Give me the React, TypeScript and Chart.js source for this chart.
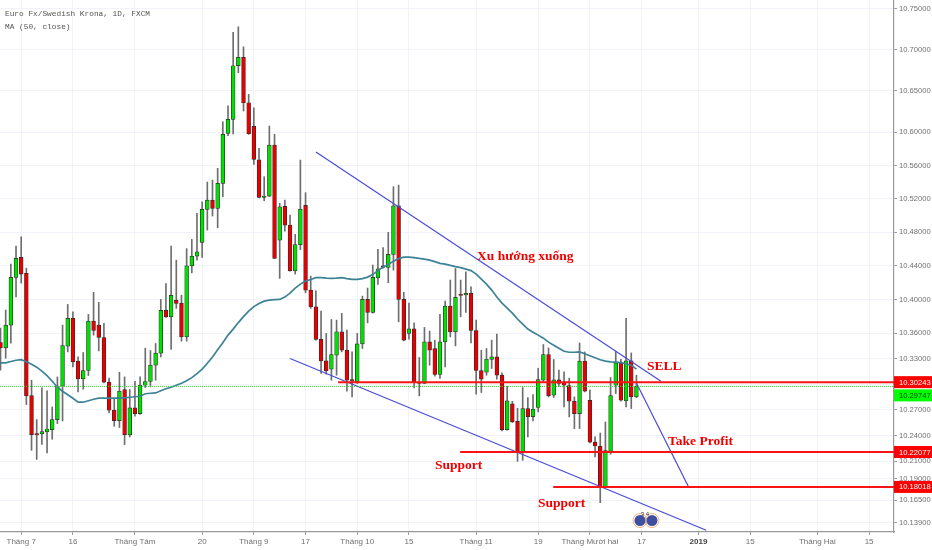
import React, { useEffect, useRef } from "react";
import { Chart, registerables } from "chart.js";

Chart.register(...registerables);

const firstBar = -4;
const opens = [10.3491,10.3427,10.3696,10.4262,10.4499,10.4309,10.2867,10.2422,10.2418,10.2441,10.2469,10.2586,10.2977,10.3447,10.3775,10.3271,10.3062,10.3161,10.3743,10.3696,10.3550,10.3024,10.2695,10.2574,10.2938,10.2406,10.2722,10.2656,10.2988,10.3032,10.3224,10.3365,10.3870,10.3794,10.3992,10.3956,10.3557,10.4399,10.4515,10.4678,10.5073,10.5184,10.5085,10.5385,10.5987,10.6156,10.6807,10.6909,10.6357,10.6072,10.5668,10.5217,10.5232,10.5845,10.4704,10.5109,10.4885,10.4340,10.4652,10.5121,10.4111,10.3913,10.3527,10.3274,10.3177,10.3341,10.3617,10.3400,10.3055,10.3027,10.3475,10.4000,10.3846,10.4257,10.4399,10.4380,10.4535,10.5116,10.4000,10.3598,10.3652,10.3024,10.3008,10.3498,10.3420,10.3114,10.3498,10.3921,10.3617,10.4060,10.4055,10.4072,10.3633,10.3161,10.3141,10.3291,10.3321,10.3106,10.2469,10.2769,10.2566,10.2207,10.2715,10.2621,10.2727,10.3047,10.3349,10.2871,10.3051,10.3024,10.2985,10.2800,10.2656,10.3271,10.2812,10.2324,10.2277,10.1800,10.2219,10.2988,10.3251,10.2804,10.3274,10.2851];
const highs = [10.3660,10.3874,10.4420,10.4634,10.4745,10.4372,10.3047,10.2586,10.2957,10.2922,10.2734,10.3086,10.3696,10.3941,10.3853,10.3321,10.3373,10.3823,10.4085,10.3965,10.3716,10.3071,10.2832,10.3141,10.3086,10.2938,10.3035,10.3086,10.3424,10.3396,10.3479,10.4000,10.4188,10.4634,10.4467,10.4051,10.4604,10.4714,10.5025,10.5164,10.5400,10.5424,10.5565,10.6127,10.6321,10.7213,10.7282,10.7037,10.6459,10.6297,10.5805,10.5464,10.6075,10.5975,10.5145,10.5184,10.5005,10.4774,10.5665,10.5273,10.4277,10.4103,10.3862,10.3598,10.3763,10.3755,10.3835,10.3637,10.3380,10.3598,10.4039,10.4135,10.4408,10.4596,10.4616,10.4798,10.5344,10.5364,10.4085,10.3956,10.3723,10.3314,10.3669,10.3625,10.3518,10.3823,10.3980,10.4230,10.4368,10.4230,10.4328,10.4150,10.3755,10.3400,10.3420,10.3519,10.3589,10.3133,10.2977,10.2800,10.2718,10.2961,10.2844,10.2879,10.3188,10.3467,10.3427,10.3291,10.3165,10.3145,10.3071,10.2851,10.3486,10.3380,10.2930,10.2383,10.2429,10.2558,10.3079,10.3388,10.3294,10.3775,10.3368,10.3106];
const lows = [10.3165,10.3306,10.3483,10.4031,10.4194,10.2762,10.2227,10.2122,10.2297,10.2196,10.2356,10.2539,10.2570,10.3380,10.3204,10.2910,10.2941,10.3102,10.3578,10.3392,10.3015,10.2663,10.2508,10.2493,10.2294,10.2383,10.2625,10.2645,10.2961,10.2968,10.3047,10.3321,10.3787,10.3408,10.3894,10.3507,10.3507,10.4316,10.4467,10.4499,10.4825,10.4993,10.4853,10.5225,10.5958,10.5979,10.6722,10.6257,10.5975,10.5613,10.5209,10.5176,10.5225,10.4484,10.4250,10.4813,10.4337,10.4301,10.4592,10.4079,10.3894,10.3518,10.3126,10.3118,10.3047,10.3106,10.3380,10.2918,10.2851,10.3008,10.3420,10.3723,10.3838,10.4178,10.4372,10.4198,10.4348,10.3735,10.3510,10.3530,10.2957,10.2863,10.3006,10.3224,10.3094,10.3067,10.3204,10.3557,10.3451,10.3794,10.3846,10.3486,10.2883,10.2903,10.3106,10.3185,10.3059,10.2453,10.2461,10.2551,10.2099,10.2111,10.2383,10.2570,10.2675,10.3027,10.2851,10.2844,10.2977,10.2734,10.2617,10.2481,10.2481,10.2910,10.2312,10.2149,10.1619,10.1794,10.2181,10.2890,10.2800,10.2734,10.2715,10.2844];
const closes = [10.3427,10.3696,10.4262,10.4487,10.4301,10.2863,10.2411,10.2406,10.2446,10.2476,10.2586,10.2977,10.3455,10.3775,10.3262,10.3062,10.3161,10.3743,10.3633,10.3550,10.3024,10.2695,10.2574,10.2918,10.2411,10.2722,10.2656,10.2988,10.3032,10.3224,10.3365,10.3870,10.3794,10.4048,10.3953,10.3557,10.4399,10.4515,10.4566,10.5073,10.5184,10.5085,10.5385,10.5975,10.6156,10.6807,10.6909,10.6357,10.5982,10.5673,10.5217,10.5232,10.5845,10.4487,10.5104,10.4885,10.4340,10.4652,10.5076,10.4111,10.3913,10.3527,10.3274,10.3157,10.3349,10.3617,10.3400,10.3047,10.3039,10.3475,10.4000,10.3846,10.4262,10.4364,10.4380,10.4535,10.5116,10.4000,10.3518,10.3652,10.3024,10.3008,10.3498,10.3400,10.3114,10.3498,10.3921,10.3617,10.4024,10.4048,10.4072,10.3633,10.3161,10.3059,10.3294,10.3321,10.3106,10.2469,10.2804,10.2558,10.2207,10.2715,10.2621,10.2707,10.3055,10.3349,10.2867,10.3051,10.3008,10.2988,10.2800,10.2656,10.3271,10.2918,10.2321,10.2277,10.1800,10.2224,10.2867,10.3251,10.2812,10.3274,10.2851,10.2975];
const ma50 = [10.3251,10.3251,10.3267,10.3282,10.3288,10.3265,10.3235,10.3200,10.3153,10.3100,10.3035,10.2965,10.2918,10.2877,10.2836,10.2789,10.2789,10.2806,10.2824,10.2836,10.2836,10.2836,10.2836,10.2836,10.2841,10.2847,10.2853,10.2859,10.2888,10.2894,10.2898,10.2924,10.2947,10.2965,10.2988,10.3012,10.3041,10.3077,10.3124,10.3177,10.3247,10.3321,10.3405,10.3489,10.3578,10.3649,10.3726,10.3797,10.3862,10.3915,10.3951,10.3980,10.3992,10.3998,10.4000,10.4028,10.4075,10.4135,10.4182,10.4218,10.4236,10.4259,10.4259,10.4253,10.4250,10.4253,10.4259,10.4247,10.4238,10.4238,10.4247,10.4265,10.4295,10.4342,10.4384,10.4414,10.4455,10.4485,10.4503,10.4503,10.4497,10.4487,10.4479,10.4467,10.4449,10.4428,10.4420,10.4404,10.4390,10.4378,10.4360,10.4342,10.4301,10.4241,10.4182,10.4111,10.4028,10.3956,10.3897,10.3838,10.3768,10.3708,10.3649,10.3613,10.3578,10.3542,10.3495,10.3459,10.3424,10.3388,10.3376,10.3376,10.3380,10.3359,10.3335,10.3312,10.3288,10.3271,10.3262,10.3259,10.3253,10.3241,10.3224,10.3177];

const xTickValues = [0,10,22,35,45,55,65,75,88,100,110,120,131,141,154,164];
const xTickLabels = ["Tháng 7","16","Tháng Tám","20","Tháng 9","17","Tháng 10","15","Tháng 11","19","Tháng Mười hai","17","2019","15","Tháng Hai","15"];
const yTickValues = [10.75,10.7,10.65,10.6,10.56,10.52,10.48,10.44,10.4,10.36,10.33,10.3,10.27,10.24,10.21,10.19,10.165,10.139];

const upperTrendX = [57, 123.75];
const upperTrendY = [10.5761, 10.3035];
const lowerTrendX = [52, 132.5];
const lowerTrendY = [10.3302, 10.13];
const targetLineX = [118.9, 129];
const targetLineY = [10.3027, 10.1812];

const levelPrices = [10.30243, 10.22077, 10.18018];
const levelStarts = [61.3, 84.9, 102.9];
const lastPrice = 10.29747;

const xMin = -4.1;
const xMax = 168.82;
const yMin = 10.128;
const yMax = 10.761;

const barX = opens.map((_, i) => i + firstBar);
const UP = "#00e000";
const DOWN = "#e80000";
const trendBlue = "#4b4bd8";

const trend = (xs: number[], ys: number[]) => ({
  type: "line" as const,
  data: xs.map((x, i) => ({ x, y: ys[i] })),
  borderColor: trendBlue,
  borderWidth: 1.2,
  pointRadius: 0,
  order: 0,
});

const overlay = {
  id: "overlay",
  afterDatasetsDraw(chart: any) {
    const { ctx, scales } = chart;
    const y = scales.y;
    ctx.save();
    ctx.textBaseline = "middle";

    // headings
    ctx.fillStyle = "#555";
    ctx.textAlign = "left";
    ctx.font = "7.8px 'Liberation Mono'";
    ctx.fillText("Euro Fx/Swedish Krona, 1D, FXCM", 5, 14);
    ctx.fillText("MA (50, close)", 5, 27);

    // notes
    ctx.fillStyle = "#f00000";
    ctx.font = "bold 13.5px 'Liberation Serif'";
    ctx.fillText("Xu hướng xuống", 477, 257);
    ctx.fillText("SELL", 647, 367);
    ctx.fillText("Take Profit", 668, 442);
    ctx.fillText("Support", 435, 466);
    ctx.fillText("Support", 538, 504);

    // logo
    ctx.strokeStyle = "#f0b080";
    ctx.lineWidth = 1;
    for (const cx of [640, 652]) {
      ctx.beginPath();
      ctx.arc(cx, 520.5, 7, 0, Math.PI * 2);
      ctx.stroke();
    }
    ctx.fillStyle = "#3f4f9f";
    for (const cx of [640, 652]) {
      ctx.beginPath();
      ctx.arc(cx, 520.5, 5.5, 0, Math.PI * 2);
      ctx.fill();
    }
    ctx.fillStyle = "#333";
    ctx.font = "6px 'Liberation Sans'";
    ctx.textAlign = "center";
    ctx.fillText("3 4", 645, 514.5);

    // price tags
    ctx.font = "7.6px 'Liberation Sans'";
    ctx.textAlign = "left";
    levelPrices.forEach((p) => {
      const py = y.getPixelForValue(p);
      ctx.fillStyle = "#ff0000";
      ctx.fillRect(894, py - 6, 38, 12);
      ctx.fillStyle = "#ffffff";
      ctx.fillText(p.toFixed(5), 899, py + 0.5);
    });
    const gy = y.getPixelForValue(lastPrice) + 9;
    ctx.fillStyle = "#00ff00";
    ctx.fillRect(894, gy - 6, 38, 12);
    ctx.fillStyle = "#0b3b0b";
    ctx.fillText(lastPrice.toFixed(5), 899, gy + 0.5);
    ctx.restore();
  },
};

export default function App() {
  const ref = useRef<HTMLCanvasElement>(null);
  useEffect(() => {
    const chart = new Chart(ref.current as HTMLCanvasElement, {
      type: "bar",
      plugins: [overlay],
      data: {
        datasets: [
          ...levelPrices.map((p, i) => ({
            type: "line" as const,
            data: [{ x: levelStarts[i], y: p }, { x: xMax, y: p }],
            borderColor: "#f81414",
            borderWidth: 2,
            pointRadius: 0,
            order: 0,
          })),
          {
            type: "line" as const,
            data: [{ x: xMin, y: lastPrice }, { x: xMax, y: lastPrice }],
            borderColor: "#22e022",
            borderWidth: 1,
            borderDash: [1, 1],
            pointRadius: 0,
            order: 0,
          },
          trend(upperTrendX, upperTrendY),
          trend(lowerTrendX, lowerTrendY),
          trend(targetLineX, targetLineY),
          {
            type: "line" as const,
            data: barX.map((x, i) => ({ x, y: ma50[i] })),
            borderColor: "#3d8296",
            borderWidth: 1.7,
            pointRadius: 0,
            tension: 0,
            order: 1,
          },
          {
            type: "bar" as const,
            data: barX.map((x, i) => ({ x, y: [opens[i], closes[i]] })),
            backgroundColor: barX.map((_, i) => (closes[i] >= opens[i] ? UP : DOWN)),
            borderColor: "#2a2a2a",
            borderWidth: 0.7,
            borderSkipped: false,
            barThickness: 3.8,
            grouped: false,
            order: 2,
          },
          {
            type: "bar" as const,
            data: barX.map((x, i) => ({ x, y: [lows[i], highs[i]] })),
            backgroundColor: "#6e6e6e",
            borderWidth: 0,
            barThickness: 1,
            grouped: false,
            order: 3,
          },
        ],
      } as any,
      options: {
        responsive: false,
        animation: false,
        layout: { padding: 0 },
        plugins: { legend: { display: false }, tooltip: { enabled: false } },
        scales: {
          x: {
            type: "linear",
            min: xMin,
            max: xMax,
            offset: false,
            afterBuildTicks: (s: any) => {
              s.ticks = xTickValues.map((value) => ({ value }));
            },
            afterFit: (s: any) => {
              s.height = 18;
              s.paddingLeft = 0;
              s.paddingRight = 0;
            },
            grid: { color: "#f0f3fa", tickColor: "#9a9a9a", tickLength: 3, offset: false },
            border: { color: "#9a9a9a", width: 1.2 },
            ticks: {
              autoSkip: false,
              maxRotation: 0,
              padding: 2,
              color: (c: any) => (c.tick && c.tick.value === 131 ? "#444" : "#707070"),
              font: (c: any) => ({
                family: "'Liberation Sans'",
                size: 8,
                weight: c.tick && c.tick.value === 131 ? "bold" : "normal",
              }),
              callback: (v: any) => xTickLabels[xTickValues.indexOf(v)],
            },
          },
          y: {
            type: "logarithmic",
            position: "right",
            min: yMin,
            max: yMax,
            afterBuildTicks: (s: any) => {
              s.ticks = yTickValues.map((value) => ({ value }));
            },
            afterFit: (s: any) => {
              s.width = 38;
              s.paddingTop = 0;
              s.paddingBottom = 0;
            },
            grid: { color: "#f0f3fa", tickColor: "#9a9a9a", tickLength: 3 },
            border: { color: "#9a9a9a", width: 1.2 },
            ticks: {
              autoSkip: false,
              padding: 2,
              color: "#707070",
              font: { family: "'Liberation Sans'", size: 7.6 },
              callback: (v: any) => Number(v).toFixed(5),
            },
          },
        },
      },
    } as any);
    return () => chart.destroy();
  }, []);
  return (
    <canvas
      ref={ref}
      width={932}
      height={550}
      style={{ position: "absolute", left: 0, top: 0, width: 932, height: 550, display: "block" }}
    />
  );
}
